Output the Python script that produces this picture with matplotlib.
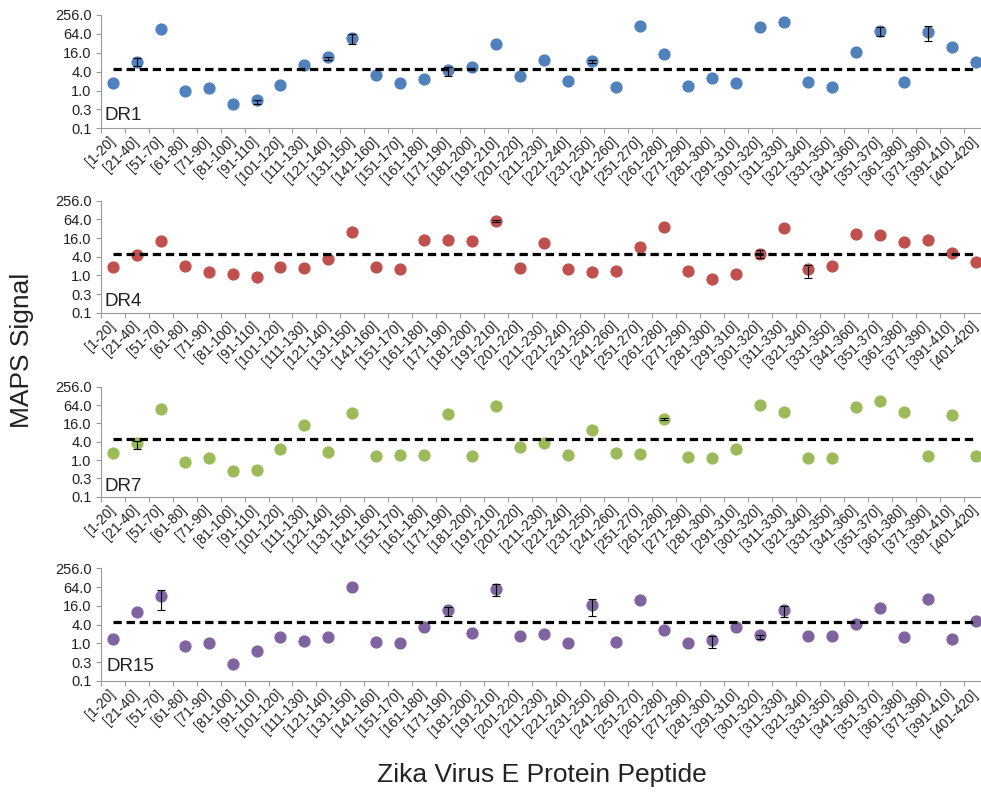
import numpy as np
import matplotlib.pyplot as plt
from matplotlib.ticker import NullLocator

plt.rcParams['font.family'] = ['Liberation Sans', 'DejaVu Sans']

# peptide windows along the Zika E protein
peptides = ['[1-20]', '[21-40]', '[51-70]', '[61-80]', '[71-90]', '[81-100]', '[91-110]',
            '[101-120]', '[111-130]', '[121-140]', '[131-150]', '[141-160]', '[151-170]',
            '[161-180]', '[171-190]', '[181-200]', '[191-210]', '[201-220]', '[211-230]',
            '[221-240]', '[231-250]', '[241-260]', '[251-270]', '[261-280]', '[271-290]',
            '[281-300]', '[291-310]', '[301-320]', '[311-330]', '[321-340]', '[331-350]',
            '[341-360]', '[351-370]', '[361-380]', '[371-390]', '[391-410]', '[401-420]']

dr1 = [1.78, 8.1, 91, 0.97, 1.18, 0.37, 0.50, 1.54, 6.4, 11.4, 48.4, 3.2, 1.78,
       2.34, 4.5, 5.5, 29.6, 2.98, 9.4, 2.02, 8.9, 1.27, 114, 14.3, 1.43,
       2.45, 1.74, 108, 149, 1.87, 1.27, 17.3, 81, 1.87, 75, 24.4, 8.3]
dr4 = [1.81, 4.42, 13.1, 1.95, 1.29, 1.10, 0.90, 1.81, 1.69, 3.37, 25.7, 1.81, 1.56,
       13.8, 14.1, 13.1, 57.8, 1.69, 10.8, 1.60, 1.29, 1.38, 8.2, 37, 1.38,
       0.78, 1.10, 5.0, 33.6, 1.56, 2.06, 21, 20, 12.2, 14.1, 5.4, 2.7]
dr7 = [1.66, 3.62, 48.5, 0.84, 1.19, 0.45, 0.48, 2.36, 13.7, 1.78, 35, 1.35, 1.42,
       1.45, 32.5, 1.35, 59, 2.74, 3.62, 1.46, 9.4, 1.66, 1.53, 22.2, 1.25,
       1.16, 2.36, 62.6, 37.6, 1.16, 1.19, 53.7, 86.5, 37.6, 1.35, 29.3, 1.35]
dr15 = [1.36, 10.4, 33.8, 0.85, 1.06, 0.22, 0.58, 1.57, 1.20, 1.61, 65.5, 1.12, 1.06,
        3.37, 12.0, 2.22, 56.7, 1.70, 2.06, 1.06, 16.6, 1.14, 24, 2.7, 1.06,
        1.26, 3.37, 1.92, 12.0, 1.70, 1.70, 4.3, 13.7, 1.57, 27, 1.39, 5.4]

# error bars: index -> (minus, plus)
dr1_err = {1: (1.9, 2.5), 6: (0.12, 0.0), 9: (1.9, 0.5), 10: (17, 13), 14: (1.6, 1.3),
           20: (1.5, 0.3), 32: (26, 22), 34: (36, 39)}
dr4_err = {16: (5, 5), 27: (1.5, 1.5), 29: (0.72, 0.6)}
dr7_err = {1: (1.38, 0.6), 23: (2, 2)}
dr15_err = {2: (22.3, 18.8), 14: (4.6, 2.3), 16: (24, 21), 20: (9.2, 10.4),
            25: (0.56, 0.52), 27: (0.5, 0.0), 28: (5.1, 3.7)}

threshold = 5.0
ytick_vals = [4.0 ** k for k in range(-2, 5)]
ytick_labels = ['0.1', '0.3', '1.0', '4.0', '16.0', '64.0', '256.0']

series = [('DR1', dr1, dr1_err, '#4F81BD'),
          ('DR4', dr4, dr4_err, '#C0504D'),
          ('DR7', dr7, dr7_err, '#9BBB59'),
          ('DR15', dr15, dr15_err, '#8064A2')]

# panel placement in pixels: (top, bottom, label baseline, label left)
W, H = 981, 792
panel_px = [(15, 128.3, 120, 104), (200.7, 312.7, 306, 104),
            (386.7, 496.7, 491, 104), (568.3, 681, 671, 106.5)]
ax_left, ax_width = 100.7, 887.0
gray = '#9a9a9a'
txt = '#222222'

fig = plt.figure(figsize=(W / 100, H / 100), dpi=100)
n = len(peptides)
x = np.arange(n)

for (name, vals, errs, color), (top, bot, base, lx) in zip(series, panel_px):
    ax = fig.add_axes([ax_left / W, 1 - bot / H, ax_width / W, (bot - top) / H])
    lo = np.zeros(n)
    hi = np.zeros(n)
    for i, (m, p) in errs.items():
        lo[i] = m
        hi[i] = p
    ax.plot(x, vals, 'o', color=color, ms=7.8, mec=color, zorder=2)
    # only draw bars where there is an error, on top of the markers like Excel
    has = (lo + hi) > 0
    ax.errorbar(x[has], np.array(vals)[has], yerr=[lo[has], hi[has]], fmt='none',
                ecolor='black', elinewidth=0.8, capsize=3.2, capthick=0.8, zorder=3)
    ax.hlines(threshold, x[0], x[-1], colors='black', linewidth=2.3,
              linestyles=(0, (2.6, 1.5)), zorder=4)

    ax.set_yscale('log', base=4)
    ax.set_ylim(ytick_vals[0], ytick_vals[-1])
    ax.set_yticks(ytick_vals)
    ax.set_yticklabels(ytick_labels)
    ax.yaxis.set_minor_locator(NullLocator())
    ax.set_xlim(-0.5, n - 0.5)
    ax.set_xticks(x)
    ax.set_xticklabels(peptides)
    ax.set_xticks(np.arange(n + 1) - 0.5, minor=True)

    for s in ['top', 'right']:
        ax.spines[s].set_visible(False)
    for s in ['left', 'bottom']:
        ax.spines[s].set_color(gray)
        ax.spines[s].set_linewidth(0.8)

    ax.tick_params(axis='y', length=3.5, width=0.8, color=gray, labelsize=10.5,
                   labelcolor=txt, pad=3)
    ax.tick_params(axis='x', which='major', length=0, pad=8, labelsize=10,
                   labelcolor=txt)
    ax.tick_params(axis='x', which='minor', length=3.5, width=0.8, color=gray)
    for lbl in ax.get_xticklabels():
        lbl.set_rotation(45)
        lbl.set_ha('right')
        lbl.set_va('center')
        lbl.set_rotation_mode('anchor')

    fig.text(lx / W, 1 - base / H, name, fontsize=13.5, color=txt, va='baseline')

fig.text(22 / W, 1 - 350 / H, 'MAPS Signal', rotation=90, ha='center', va='center',
         fontsize=19, color=txt)
fig.text(542 / W, 1 - 775 / H, 'Zika Virus E Protein Peptide', ha='center',
         va='center', fontsize=19, color=txt)

fig.savefig('out.png', dpi=100)
